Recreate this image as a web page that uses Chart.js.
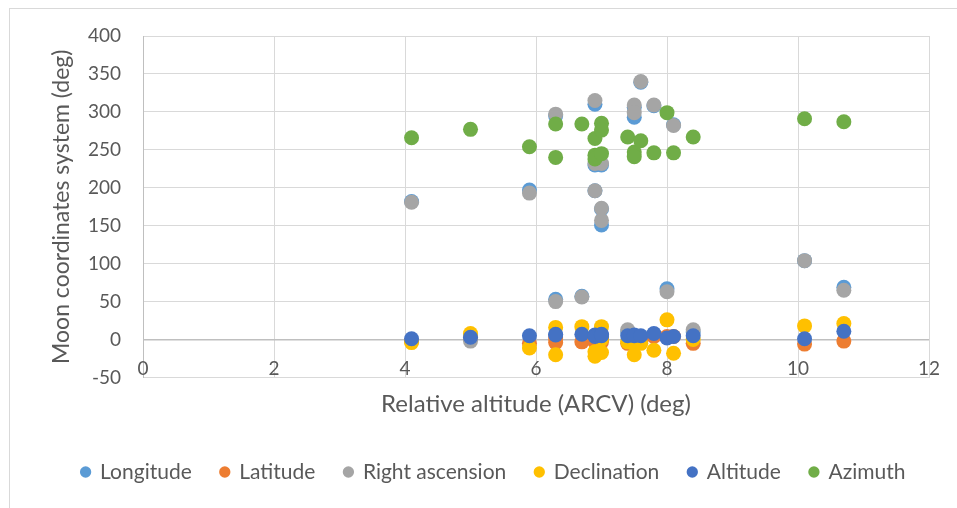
<!DOCTYPE html>
<html>
<head>
<meta charset="utf-8">
<script src="https://cdn.jsdelivr.net/npm/chart.js@4.4.1/dist/chart.umd.min.js"></script>
<style>
  html, body { margin: 0; padding: 0; background: #fff; }
  #wrap { position: relative; width: 957px; height: 508px; overflow: hidden; }
  #frame { position: absolute; left: 9px; top: 8px; width: 1000px; height: 600px; border: 1px solid #d9d9d9; }
  canvas { position: absolute; left: 0; top: 0; }
</style>
</head>
<body>
<div id="wrap">
  <div id="frame"></div>
  <canvas id="chartCanvas" width="957" height="508"></canvas>
</div>
<script>
// relative altitude (ARCV), one entry per observation
const arcv = [4.1, 5.0, 5.9, 6.3, 6.3, 6.7, 6.9, 6.9, 6.9, 7.0, 7.0, 7.0, 7.4, 7.5, 7.5, 7.6, 7.8, 8.0, 8.1, 8.4, 10.1, 10.7];

const longitude   = [182, 4, 197, 295, 53, 57, 310, 196, 230, 172, 151, 230, 10, 306, 293, 339, 308, 67, 283, 10, 104, 69];
const latitude    = [-2, 2, -5, -4, 2, -3, -3, 0, 3, -3, 2, 4, -5, 3, -2, 0, 4, 4, 4, -5, -6, -2];
const rightAsc    = [181, -2, 193, 297, 50, 56, 315, 196, 232, 173, 157, 232, 13, 309, 299, 340, 309, 63, 282, 13, 104, 65];
const declination = [-4, 8, -11, 16, -20, 17, -22, -16, 5, 17, -17, 0, -3, -20, -2, -5, -14, 26, -18, 0, 18, 21];
const altitude    = [1, 3, 5, 7, 6, 7, 5, 6, 4, 7, 5, 6, 5, 6, 5, 5, 8, 2, 4, 5, 1, 11];
const azimuth     = [266, 277, 254, 284, 240, 284, 265, 243, 238, 285, 276, 245, 267, 247, 241, 262, 246, 299, 246, 267, 291, 287];

const seriesNames = ['Longitude', 'Latitude', 'Right ascension', 'Declination', 'Altitude', 'Azimuth'];
const seriesValues = [longitude, latitude, rightAsc, declination, altitude, azimuth];
const seriesColors = ['#5B9BD5', '#ED7D31', '#A5A5A5', '#FFC000', '#4472C4', '#70AD47'];

const txt = '#595959';
const fam = 'Lato, "Open Sans", sans-serif';

const datasets = seriesNames.map((name, i) => ({
  label: name,
  data: arcv.map((x, j) => ({ x: x, y: seriesValues[i][j] })),
  backgroundColor: seriesColors[i],
  borderColor: seriesColors[i],
  pointRadius: 7.5,
  pointBorderWidth: 0,
  order: seriesNames.length - i   // later series on top, like Excel
}));

// Excel puts the x tick labels just above the bottom gridline
const xLabelsInside = {
  id: 'xLabelsInside',
  afterLayout(chart) {
    // legend in the reference sits a bit right of the canvas centre
    chart.legend.left += 29;
    chart.legend.right += 29;
  },
  afterDraw(chart) {
    const sx = chart.scales.x;
    const c = chart.ctx;
    c.save();
    c.fillStyle = txt;
    c.font = '19px ' + fam;
    c.textAlign = 'center';
    c.textBaseline = 'middle';
    sx.ticks.forEach(t => {
      c.fillText(String(t.value), sx.getPixelForValue(t.value), chart.chartArea.bottom - 9);
    });
    c.restore();
  }
};

const ctx = document.getElementById('chartCanvas').getContext('2d');
new Chart(ctx, {
  type: 'scatter',
  data: { datasets },
  plugins: [xLabelsInside],
  options: {
    responsive: false,
    animation: false,
    layout: { padding: { left: 0, right: 28, top: 36, bottom: 15.5 } },
    scales: {
      x: {
        type: 'linear',
        min: 0, max: 12,
        afterFit: s => { s.height = 55; },
        ticks: { stepSize: 2, display: false },
        grid: { color: '#d9d9d9', drawTicks: false },
        border: { display: false },
        title: { display: true, text: 'Relative altitude (ARCV) (deg)', color: txt,
                 font: { family: fam, size: 24 }, padding: { top: 0, bottom: 14 } }
      },
      y: {
        min: -50, max: 400,
        afterFit: s => { s.width = 143; },
        ticks: { stepSize: 50, color: txt, font: { family: fam, size: 19 }, padding: 22 },
        grid: {
          drawTicks: false,
          color: c => c.tick && c.tick.value === 0 ? '#bfbfbf' : '#d9d9d9',
          lineWidth: c => c.tick && c.tick.value === 0 ? 1.5 : 1
        },
        border: { color: '#bfbfbf' },
        title: { display: true, text: 'Moon coordinates system (deg)', color: txt,
                 font: { family: fam, size: 23 }, padding: { top: 48, bottom: 0 } }
      }
    },
    plugins: {
      tooltip: { enabled: false },
      legend: {
        position: 'bottom',
        labels: {
          usePointStyle: true, pointStyle: 'circle',
          boxWidth: 8, boxHeight: 8,
          padding: 29,
          color: txt, font: { family: fam, size: 21 },
          sort: (a, b) => a.datasetIndex - b.datasetIndex
        }
      }
    }
  }
});
</script>
</body>
</html>
